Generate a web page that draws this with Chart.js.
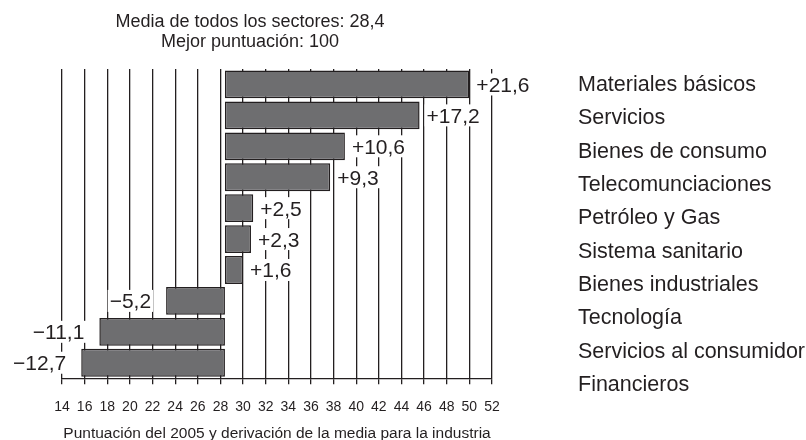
<!DOCTYPE html>
<html>
<head>
<meta charset="utf-8">
<script src="https://cdn.jsdelivr.net/npm/chart.js@4/dist/chart.umd.min.js"></script>
<style>
  html, body { margin: 0; padding: 0; background: #fff; }
  #wrap { width: 806px; height: 440px; }
</style>
</head>
<body>
<div id="wrap"><canvas id="myChart" width="806" height="440"></canvas></div>
<script>
// sectors and their deviation from the all-sector mean
var sectores = [
  "Materiales básicos",
  "Servicios",
  "Bienes de consumo",
  "Telecomunciaciones",
  "Petróleo y Gas",
  "Sistema sanitario",
  "Bienes industriales",
  "Tecnología",
  "Servicios al consumidor",
  "Financieros",
];
var derivacion = [21.6, 17.2, 10.6, 9.3, 2.5, 2.3, 1.6, -5.2, -11.1, -12.7];
var media = 28.4;
var mejor = 100;
var ejeMin = 14;
var ejeMax = 52;
var tituloEje = 'Puntuación del 2005 y derivación de la media para la industria';

var ink = '#231f20';
var fontFam = '"Liberation Sans", Arial, Helvetica, sans-serif';

function fmt(v) {
  var s = Math.abs(v).toFixed(1).replace('.', ',');
  return (v < 0 ? '\u2212' : '+') + s;
}

// bars float from the mean to mean + deviation
var barras = derivacion.map(function (d) { return [media, media + d]; });

var etiquetas = {
  id: 'etiquetas',
  afterDatasetsDraw: function (chart) {
    var ctx = chart.ctx;
    var meta = chart.getDatasetMeta(0);
    var xs = chart.scales.x;
    var ys = chart.scales.y;
    ctx.save();

    // value labels, white box behind so the grid breaks around them
    var fs = 21;
    ctx.font = fs + 'px ' + fontFam;
    ctx.textBaseline = 'alphabetic';
    meta.data.forEach(function (bar, i) {
      var d = derivacion[i];
      var txt = fmt(d);
      var w = ctx.measureText(txt).width;
      var end = xs.getPixelForValue(media + d);
      var x = d >= 0 ? end + 7 : end - 15 - w;
      var y = bar.y;
      ctx.fillStyle = '#fff';
      ctx.fillRect(x - 2, y - 11, w + 4, 22);
      ctx.fillStyle = ink;
      ctx.textAlign = 'left';
      ctx.fillText(txt, x, y + fs * 0.716 / 2);
    });

    // sector names on the right
    var fs2 = 21.5;
    ctx.font = fs2 + 'px ' + fontFam;
    ctx.fillStyle = ink;
    ctx.textAlign = 'left';
    var pitch = 33.3;
    var y0 = ys.getPixelForValue(0) - 1;
    sectores.forEach(function (s, i) {
      ctx.fillText(s, xs.right + 86, y0 + i * pitch + fs2 * 0.716 / 2);
    });

    // heading
    var fs3 = 18;
    ctx.font = fs3 + 'px ' + fontFam;
    ctx.textAlign = 'center';
    var cx = 250;
    ctx.fillText('Media de todos los sectores: ' + media.toFixed(1).replace('.', ','), cx, 27);
    ctx.fillText('Mejor puntuación: ' + mejor, cx, 47);

    // axis title under the tick labels
    ctx.font = '15.5px ' + fontFam;
    ctx.textBaseline = 'middle';
    ctx.fillText(tituloEje, (xs.left + xs.right) / 2, xs.bottom + 3);

    ctx.restore();
  }
};

new Chart(document.getElementById('myChart'), {
  type: 'bar',
  data: {
    labels: sectores,
    datasets: [{
      data: barras,
      backgroundColor: '#6e6e70',
      borderColor: ink,
      borderWidth: 1.5,
      borderSkipped: false,
      barPercentage: 0.9,
      categoryPercentage: 1.0,
    }]
  },
  options: {
    indexAxis: 'y',
    responsive: false,
    animation: false,
    layout: { padding: { left: 62, right: 314, top: 69, bottom: 9 } },
    plugins: {
      legend: { display: false },
      tooltip: { enabled: false },
    },
    scales: {
      x: {
        min: ejeMin,
        max: ejeMax,
        ticks: {
          stepSize: 2,
          autoSkip: false,
          maxRotation: 0,
          padding: 15,
          color: ink,
          font: { family: fontFam, size: 14 },
        },
        grid: {
          color: ink,
          lineWidth: 1.3,
          tickLength: 6,
          drawOnChartArea: true,
        },
        border: { display: true, color: ink, width: 1.3 },
      },
      y: {
        display: false,
        offset: true,
      }
    }
  },
  plugins: [etiquetas]
});
</script>
</body>
</html>
